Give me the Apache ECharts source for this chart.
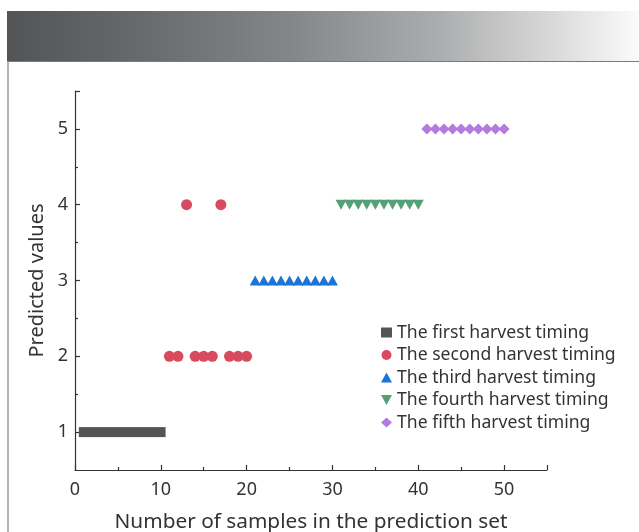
<!DOCTYPE html>
<html>
<head>
<meta charset="utf-8">
<script src="https://cdn.jsdelivr.net/npm/echarts@6/dist/echarts.min.js"></script>
<style>
  html, body { margin: 0; padding: 0; background: #fff; }
  #main { width: 639px; height: 532px; }
</style>
</head>
<body>
<div id="main"></div>
<script>
var seriesNames = [
  "The first harvest timing",
  "The second harvest timing",
  "The third harvest timing",
  "The fourth harvest timing",
  "The fifth harvest timing"
];
// [sample number, predicted value]
var firstData = [[1, 1], [2, 1], [3, 1], [4, 1], [5, 1], [6, 1], [7, 1], [8, 1], [9, 1], [10, 1]];
var secondData = [[11, 2], [12, 2], [13, 4], [14, 2], [15, 2], [16, 2], [17, 4], [18, 2], [19, 2], [20, 2]];
var thirdData = [[21, 3], [22, 3], [23, 3], [24, 3], [25, 3], [26, 3], [27, 3], [28, 3], [29, 3], [30, 3]];
var fourthData = [[31, 4], [32, 4], [33, 4], [34, 4], [35, 4], [36, 4], [37, 4], [38, 4], [39, 4], [40, 4]];
var fifthData = [[41, 5], [42, 5], [43, 5], [44, 5], [45, 5], [46, 5], [47, 5], [48, 5], [49, 5], [50, 5]];

var xLabels = [0, 10, 20, 30, 40, 50];
var xMinor = [5, 15, 25, 35, 45];
var yLabels = [1, 2, 3, 4, 5];
var yMinor = [1.5, 2.5, 3.5, 4.5];

var chartDom = document.getElementById("main");
var myChart = echarts.init(chartDom);

var axisCol = "#333";
var font = "'Noto Sans', sans-serif";

var option = {
  animation: false,
  textStyle: { fontFamily: font },
  graphic: [
    {
      type: "rect",
      shape: { x: 7, y: 11, width: 632, height: 50 },
      style: {
        fill: new echarts.graphic.LinearGradient(0, 0, 1, 0, [
          { offset: 0, color: "#535456" },
          { offset: 0.2, color: "#67686a" },
          { offset: 0.45, color: "#85868a" },
          { offset: 0.68, color: "#abacad" },
          { offset: 1, color: "#fbfbfb" }
        ])
      },
      silent: true
    },
    {
      type: "line",
      shape: { x1: 7, y1: 61.5, x2: 639, y2: 61.5 },
      style: { stroke: "#7a7a7a", lineWidth: 1 },
      silent: true
    },
    {
      type: "line",
      shape: { x1: 8, y1: 61, x2: 8, y2: 532 },
      style: { stroke: "#9a9a9a", lineWidth: 1.5 },
      silent: true
    }
  ],
  grid: { left: 75, right: 92, top: 91, bottom: 62, outerBoundsMode: "none", containLabel: false },
  legend: {
    orient: "vertical",
    left: 376,
    top: 318,
    itemWidth: 11,
    itemHeight: 10,
    itemGap: 3.5,
    textStyle: { fontSize: 17.6, color: "#333", lineHeight: 19, fontFamily: font },
    data: seriesNames
  },
  xAxis: [
    {
      type: "value",
      min: 0,
      max: 55,
      name: "Number of samples in the prediction set",
      nameLocation: "middle",
      nameGap: 42,
      nameTextStyle: { fontSize: 20.8, color: "#333", fontFamily: font },
      splitLine: { show: false },
      axisLine: { lineStyle: { color: axisCol, width: 1.2 } },
      axisTick: { inside: true, length: 5, lineStyle: { color: axisCol, width: 1.2 }, customValues: xLabels.concat([55]) },
      axisLabel: { fontSize: 18, color: "#333", margin: 11, customValues: xLabels }
    },
    {
      type: "value",
      min: 0,
      max: 55,
      position: "bottom",
      splitLine: { show: false },
      axisLine: { show: false },
      axisTick: { inside: true, length: 3, lineStyle: { color: axisCol, width: 1.2 }, customValues: xMinor },
      axisLabel: { show: false }
    }
  ],
  yAxis: [
    {
      type: "value",
      min: 0.5,
      max: 5.5,
      name: "Predicted values",
      nameLocation: "middle",
      nameGap: 19,
      nameTextStyle: { fontSize: 20, color: "#333", fontFamily: font },
      splitLine: { show: false },
      axisLine: { show: true, lineStyle: { color: axisCol, width: 1.2 } },
      axisTick: { show: true, inside: true, length: 5, lineStyle: { color: axisCol, width: 1.2 }, customValues: yLabels.concat([5.5]) },
      axisLabel: { fontSize: 18, color: "#333", margin: 7, customValues: yLabels }
    },
    {
      type: "value",
      min: 0.5,
      max: 5.5,
      position: "left",
      splitLine: { show: false },
      axisLine: { show: false },
      axisTick: { show: true, inside: true, length: 3, lineStyle: { color: axisCol, width: 1.2 }, customValues: yMinor },
      axisLabel: { show: false }
    }
  ],
  series: [
    {
      name: seriesNames[0],
      type: "scatter",
      data: firstData,
      symbol: "rect",
      symbolSize: [9.5, 10],
      itemStyle: { color: "#555555", opacity: 1 }
    },
    {
      name: seriesNames[1],
      type: "scatter",
      data: secondData,
      symbol: "circle",
      symbolSize: 11,
      itemStyle: { color: "#d84a5d", opacity: 1 }
    },
    {
      name: seriesNames[2],
      type: "scatter",
      data: thirdData,
      symbol: "triangle",
      symbolSize: [11, 10],
      itemStyle: { color: "#1b75d6", opacity: 1 }
    },
    {
      name: seriesNames[3],
      type: "scatter",
      data: fourthData,
      symbol: "path://M0,0 L10,0 L5,9 Z",
      symbolSize: [11, 10],
      itemStyle: { color: "#55a077", opacity: 1 }
    },
    {
      name: seriesNames[4],
      type: "scatter",
      data: fifthData,
      symbol: "diamond",
      symbolSize: [11, 11],
      itemStyle: { color: "#b57ae0", opacity: 1 }
    }
  ]
};

option && myChart.setOption(option);
</script>
</body>
</html>
